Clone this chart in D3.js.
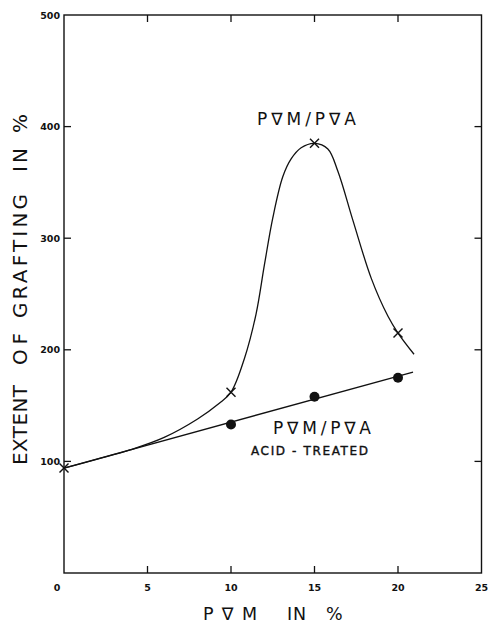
<!DOCTYPE html>
<html>
<head>
<meta charset="utf-8">
<script src="https://cdn.jsdelivr.net/npm/d3@7"></script>
<style>
  html, body { margin: 0; padding: 0; background: #fff; }
  svg { display: block; }
  .tick-label { font-family: "DejaVu Sans", sans-serif; font-weight: bold; font-size: 9.5px; fill: #111; }
  .title { font-family: "DejaVu Sans", sans-serif; fill: #111; }
</style>
</head>
<body>
<svg id="chart" width="488" height="623"></svg>
<script>
// PVM content (%) on the x axis, extent of grafting (%) on the y axis
const xTicks = [5, 10, 15, 20, 25];
const yTicks = [100, 200, 300, 400, 500];

// PVM/PVA grafting results (crosses)
const pvaX = [0, 10, 15, 20];
const pvaY = [94, 162, 385, 215];

// hand-drawn curve through the PVM/PVA crosses
const pvaCurveX = [0, 2, 4, 6, 8, 9.3, 10, 10.8, 11.5, 12.0, 12.5, 13.1, 13.6, 14.2, 15.0, 15.8, 16.4, 17.3, 18.4, 19.4, 20.0, 20.96];
const pvaCurveY = [94, 102, 110.5, 121.5, 138, 152, 162, 192, 232, 276, 318, 355, 371, 381, 385, 380, 360, 316, 264, 230, 215, 196];

// acid-treated PVM/PVA results (filled dots) and their straight line
const acidX = [10, 15, 20];
const acidY = [133, 158, 175];
const acidLineX = [0, 20.9];
const acidLineY = [94, 180];

const svg = d3.select("#chart");
const x = d3.scaleLinear().domain([0, 25]).range([64, 481.5]);
const y = d3.scaleLinear().domain([0, 500]).range([573, 15]);

const ink = "#111";

// frame
svg.append("rect")
  .attr("x", x(0)).attr("y", y(500))
  .attr("width", x(25) - x(0)).attr("height", y(0) - y(500))
  .attr("fill", "none").attr("stroke", ink).attr("stroke-width", 1.4);

// inward ticks on all four sides
const tickLen = 7;
const innerX = xTicks.filter(d => d < 25);
const innerY = yTicks.filter(d => d < 500);
const tg = svg.append("g").attr("stroke", ink).attr("stroke-width", 1.3);
innerX.forEach(d => {
  tg.append("line").attr("x1", x(d)).attr("x2", x(d)).attr("y1", y(0)).attr("y2", y(0) - tickLen);
  tg.append("line").attr("x1", x(d)).attr("x2", x(d)).attr("y1", y(500)).attr("y2", y(500) + tickLen);
});
innerY.forEach(d => {
  tg.append("line").attr("y1", y(d)).attr("y2", y(d)).attr("x1", x(0)).attr("x2", x(0) + tickLen);
  tg.append("line").attr("y1", y(d)).attr("y2", y(d)).attr("x1", x(25)).attr("x2", x(25) - tickLen);
});

// tick labels
svg.append("g").selectAll("text").data(xTicks).join("text")
  .attr("class", "tick-label")
  .attr("x", d => x(d)).attr("y", 591)
  .attr("text-anchor", "middle").text(d => d);
svg.append("text").attr("class", "tick-label")
  .attr("x", x(0) - 7).attr("y", 591).attr("text-anchor", "middle").text("0");
svg.append("g").selectAll("text").data(yTicks).join("text")
  .attr("class", "tick-label")
  .attr("x", x(0) - 4).attr("y", d => y(d) + 3.5)
  .attr("text-anchor", "end").text(d => d);

// x axis title, one word at a time
const xTitle = [["P\u2207M", 203, 54], ["IN", 287, 19], ["%", 326, 17]];
svg.append("g").selectAll("text").data(xTitle).join("text")
  .attr("class", "title")
  .attr("x", d => d[1]).attr("y", 620)
  .attr("font-size", 17.5)
  .attr("textLength", d => d[2]).attr("lengthAdjust", "spacing")
  .text(d => d[0]);

// y axis title, read bottom to top
const yTitle = [["EXTENT", 465, 80], ["OF", 365, 32], ["GRAFTING", 318, 124], ["IN", 172, 24], ["%", 133, 18]];
svg.append("g").selectAll("text").data(yTitle).join("text")
  .attr("class", "title")
  .attr("transform", d => `translate(27,${d[1]}) rotate(-90)`)
  .attr("font-size", 20)
  .attr("textLength", d => d[2]).attr("lengthAdjust", "spacing")
  .text(d => d[0]);

// PVM/PVA curve
const line = d3.line().x(d => x(d[0])).y(d => y(d[1]));
svg.append("path")
  .datum(d3.zip(pvaCurveX, pvaCurveY))
  .attr("d", line.curve(d3.curveCatmullRom.alpha(0.5)))
  .attr("fill", "none").attr("stroke", ink).attr("stroke-width", 1.3);

// acid-treated straight line
svg.append("path")
  .datum(d3.zip(acidLineX, acidLineY))
  .attr("d", d3.line().x(d => x(d[0])).y(d => y(d[1])))
  .attr("fill", "none").attr("stroke", ink).attr("stroke-width", 1.4);

// crosses
const cs = 4.5;
const crosses = svg.append("g").attr("stroke", ink).attr("stroke-width", 1.4);
d3.zip(pvaX, pvaY).forEach(([a, b]) => {
  const cx = x(a), cy = y(b);
  crosses.append("line").attr("x1", cx - cs).attr("y1", cy - cs).attr("x2", cx + cs).attr("y2", cy + cs);
  crosses.append("line").attr("x1", cx - cs).attr("y1", cy + cs).attr("x2", cx + cs).attr("y2", cy - cs);
});

// filled dots
svg.append("g").selectAll("circle").data(d3.zip(acidX, acidY)).join("circle")
  .attr("cx", d => x(d[0])).attr("cy", d => y(d[1])).attr("r", 5)
  .attr("fill", ink);

// series labels
svg.append("text").attr("class", "title")
  .attr("x", 257).attr("y", 125).attr("font-size", 17)
  .attr("textLength", 99).attr("lengthAdjust", "spacing")
  .text("P\u2207M/P\u2207A");
svg.append("text").attr("class", "title")
  .attr("x", 273).attr("y", 434).attr("font-size", 17)
  .attr("textLength", 98).attr("lengthAdjust", "spacing")
  .text("P\u2207M/P\u2207A");
svg.append("text").attr("class", "title")
  .attr("x", 251).attr("y", 455).attr("font-size", 12)
  .attr("stroke", ink).attr("stroke-width", 0.4)
  .attr("textLength", 117).attr("lengthAdjust", "spacing")
  .style("white-space", "pre")
  .text("ACID - TREATED");
</script>
</body>
</html>
